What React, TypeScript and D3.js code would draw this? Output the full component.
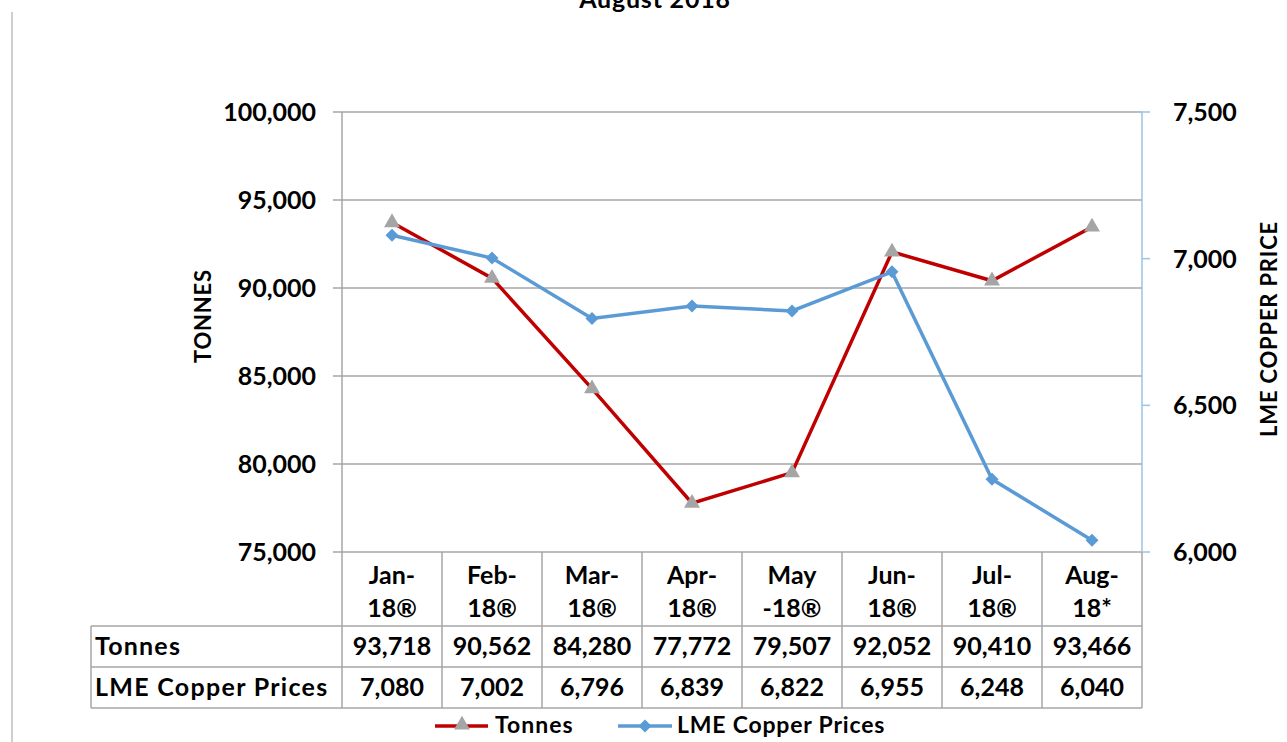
import React from "react";
import * as d3 from "d3";

const months = ["Jan-18®", "Feb-18®", "Mar-18®", "Apr-18®", "May-18®", "Jun-18®", "Jul-18®", "Aug-18*"];
const monthLines = [
  ["Jan-", "18®"],
  ["Feb-", "18®"],
  ["Mar-", "18®"],
  ["Apr-", "18®"],
  ["May", "-18®"],
  ["Jun-", "18®"],
  ["Jul-", "18®"],
  ["Aug-", "18*"],
];
const tonnes = [93718, 90562, 84280, 77772, 79507, 92052, 90410, 93466];
const prices = [7080, 7002, 6796, 6839, 6822, 6955, 6248, 6040];
const leftTicks = [75000, 80000, 85000, 90000, 95000, 100000];
const rightTicks = [6000, 6500, 7000, 7500];

const FONT = "Lato, 'Open Sans', sans-serif";
const RED = "#C00000";
const BLUE = "#5B9BD5";
const GREY = "#A5A5A5";
const GRID = "#A6A6A6";

export default function App() {
  const width = 1287;
  const height = 742;
  const left = 342;
  const right = 1142;
  const top = 112;
  const bottom = 552;
  const tableLeft = 91;
  const rowTops = [626, 667, 708];

  const x = d3.scaleBand().domain(months).range([left, right]);
  const yL = d3.scaleLinear().domain([75000, 100000]).range([bottom, top]);
  const yR = d3.scaleLinear().domain([6000, 7500]).range([bottom, top]);
  const fmt = d3.format(",");
  const cx = (i: number) => (x(months[i]) as number) + x.bandwidth() / 2;

  const tonnesLine = d3
    .line<number>()
    .x((_, i) => cx(i))
    .y((d) => yL(d))(tonnes) as string;
  const priceLine = d3
    .line<number>()
    .x((_, i) => cx(i))
    .y((d) => yR(d))(prices) as string;

  const tri = d3.symbol().type(d3.symbolTriangle).size(110)() as string;
  const dia = (s: number) => `M0,${-s}L${s},0L0,${s}L${-s},0Z`;

  return (
    <svg
      width={width}
      height={height}
      style={{ position: "absolute", left: 0, top: 0, background: "#fff" }}
      fontFamily={FONT}
      fontWeight="bold"
    >
      <text x={655} y={8} textAnchor="middle" fontSize={25} letterSpacing={0.8}>
        August 2018
      </text>
      <line x1={12} x2={12} y1={12} y2={height} stroke="#BFBFBF" strokeWidth={1.5} />

      {/* gridlines + left ticks */}
      {leftTicks.map((t) => (
        <g key={t}>
          <line x1={333} x2={right} y1={yL(t)} y2={yL(t)} stroke={GRID} strokeWidth={1.5} />
          <text x={316} y={yL(t)} dy="0.36em" textAnchor="end" fontSize={25}>
            {fmt(t)}
          </text>
        </g>
      ))}
      <line x1={left} x2={left} y1={top} y2={rowTops[2]} stroke={GRID} strokeWidth={1.5} />

      {/* right axis */}
      <line x1={right} x2={right} y1={top} y2={bottom} stroke="#9DC3E6" strokeWidth={1.5} />
      {rightTicks.map((t) => (
        <g key={t}>
          <line x1={right} x2={1150} y1={yR(t)} y2={yR(t)} stroke="#9DC3E6" strokeWidth={1.5} />
          <text x={1173} y={yR(t)} dy="0.36em" fontSize={25}>
            {fmt(t)}
          </text>
        </g>
      ))}

      <text transform="translate(211,316) rotate(-90)" textAnchor="middle" fontSize={22} letterSpacing={0.8}>
        TONNES
      </text>
      <text transform="translate(1277,329) rotate(-90)" textAnchor="middle" fontSize={22} letterSpacing={0.8}>
        LME COPPER PRICE
      </text>

      {/* data table */}
      {months.map((m) => (
        <line
          key={m}
          x1={(x(m) as number) + x.bandwidth()}
          x2={(x(m) as number) + x.bandwidth()}
          y1={bottom}
          y2={rowTops[2]}
          stroke={GRID}
          strokeWidth={1.5}
        />
      ))}
      <line x1={tableLeft} x2={tableLeft} y1={rowTops[0]} y2={rowTops[2]} stroke={GRID} strokeWidth={1.5} />
      {rowTops.map((r) => (
        <line key={r} x1={tableLeft} x2={right} y1={r} y2={r} stroke={GRID} strokeWidth={1.5} />
      ))}
      {monthLines.map((ls, i) => (
        <text key={i} x={cx(i)} textAnchor="middle" fontSize={25}>
          <tspan x={cx(i)} y={584}>
            {ls[0]}
          </tspan>
          <tspan x={cx(i)} y={617}>
            {ls[1]}
          </tspan>
        </text>
      ))}
      <text x={95} y={655} fontSize={25} letterSpacing={1.2}>
        Tonnes
      </text>
      <text x={95} y={696} fontSize={25} letterSpacing={1.3}>
        LME Copper Prices
      </text>
      {tonnes.map((v, i) => (
        <text key={i} x={cx(i)} y={655} textAnchor="middle" fontSize={25}>
          {fmt(v)}
        </text>
      ))}
      {prices.map((v, i) => (
        <text key={i} x={cx(i)} y={696} textAnchor="middle" fontSize={25}>
          {fmt(v)}
        </text>
      ))}

      {/* series */}
      <path d={tonnesLine} fill="none" stroke={RED} strokeWidth={3.5} />
      {tonnes.map((v, i) => (
        <path key={i} d={tri} transform={`translate(${cx(i)},${yL(v)})`} fill={GREY} />
      ))}
      <path d={priceLine} fill="none" stroke={BLUE} strokeWidth={3.5} />
      {prices.map((v, i) => (
        <path key={i} d={dia(6.5)} transform={`translate(${cx(i)},${yR(v)})`} fill={BLUE} />
      ))}

      {/* legend */}
      <line x1={435} x2={488} y1={726} y2={726} stroke={RED} strokeWidth={3.5} />
      <path d={tri} transform="translate(462,725)" fill={GREY} />
      <text x={495} y={733} fontSize={23} letterSpacing={1}>
        Tonnes
      </text>
      <line x1={618} x2={672} y1={726} y2={726} stroke={BLUE} strokeWidth={3.5} />
      <path d={dia(6.5)} transform="translate(645,726)" fill={BLUE} />
      <text x={677} y={733} fontSize={23} letterSpacing={0.8}>
        LME Copper Prices
      </text>
    </svg>
  );
}
